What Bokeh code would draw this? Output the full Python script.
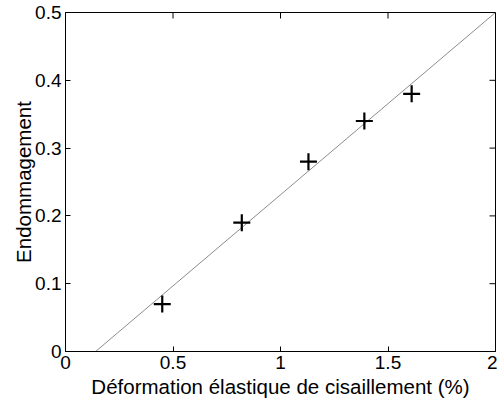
import math
from bokeh.plotting import figure
from bokeh.models import FixedTicker, Range1d
from bokeh.embed import file_html
from bokeh.resources import INLINE

# Data
strain = [0.45, 0.82, 1.13, 1.39, 1.61]
damage = [0.07, 0.19, 0.28, 0.34, 0.38]
fit_x = [0.14, 2.0]
fit_y = [0.0, 0.5]

x_ticks = [0, 0.5, 1, 1.5, 2]
x_tick_labels = ["0", "0.5", "1", "1.5", "2"]
y_ticks = [0, 0.1, 0.2, 0.3, 0.4, 0.5]
y_tick_labels = ["0", "0.1", "0.2", "0.3", "0.4", "0.5"]

x_title = "Déformation élastique de cisaillement (%)"
y_title = "Endommagement"

FONT = "Liberation Sans"
TICK_SIZE = "19px"
LABEL_SIZE = "20.5px"

p = figure(width=497, height=405, output_backend="svg", toolbar_location=None,
           x_range=Range1d(x_ticks[0], x_ticks[-1]), y_range=Range1d(y_ticks[0], y_ticks[-1]),
           min_border_left=65, min_border_right=2, min_border_top=12, min_border_bottom=54,
           background_fill_color="white", border_fill_color="white")
p.xgrid.visible = False
p.ygrid.visible = False
p.outline_line_color = "black"
p.outline_line_width = 1

p.line(fit_x, fit_y, line_color="#8c8c8c", line_width=1)
p.scatter(strain, damage, marker="cross", size=17, line_color="black", line_width=2.2)

# inward ticks on the top and right edges of the box (about 5 px long)
p.ray(x=x_ticks, y=[y_ticks[-1]] * len(x_ticks), length=6, length_units="screen",
      angle=-math.pi / 2, line_color="black", line_width=1)
p.ray(x=[x_ticks[-1]] * len(y_ticks), y=y_ticks, length=6, length_units="screen",
      angle=math.pi, line_color="black", line_width=1)


def style(ax, ticks, labels):
    ax.ticker = FixedTicker(ticks=ticks)
    ax.major_label_overrides = {t: l for t, l in zip(ticks, labels)}
    ax.minor_tick_line_color = None
    ax.major_tick_in = 5
    ax.major_tick_out = 0
    ax.axis_line_color = "black"
    ax.major_tick_line_color = "black"
    ax.major_tick_line_width = 1
    ax.major_label_text_font = FONT
    ax.major_label_text_color = "black"
    ax.major_label_text_font_size = TICK_SIZE
    ax.axis_label_text_font = FONT
    ax.axis_label_text_font_style = "normal"
    ax.axis_label_text_color = "black"
    ax.axis_label_text_font_size = LABEL_SIZE


xa = p.xaxis[0]
style(xa, x_ticks, x_tick_labels)
xa.axis_label = x_title
xa.major_label_standoff = 4
xa.axis_label_standoff = 3

ya = p.yaxis[0]
style(ya, y_ticks, y_tick_labels)
ya.axis_label = y_title
ya.major_label_standoff = 4
ya.axis_label_standoff = -3

open("out.html", "w").write(file_html(p, INLINE))
